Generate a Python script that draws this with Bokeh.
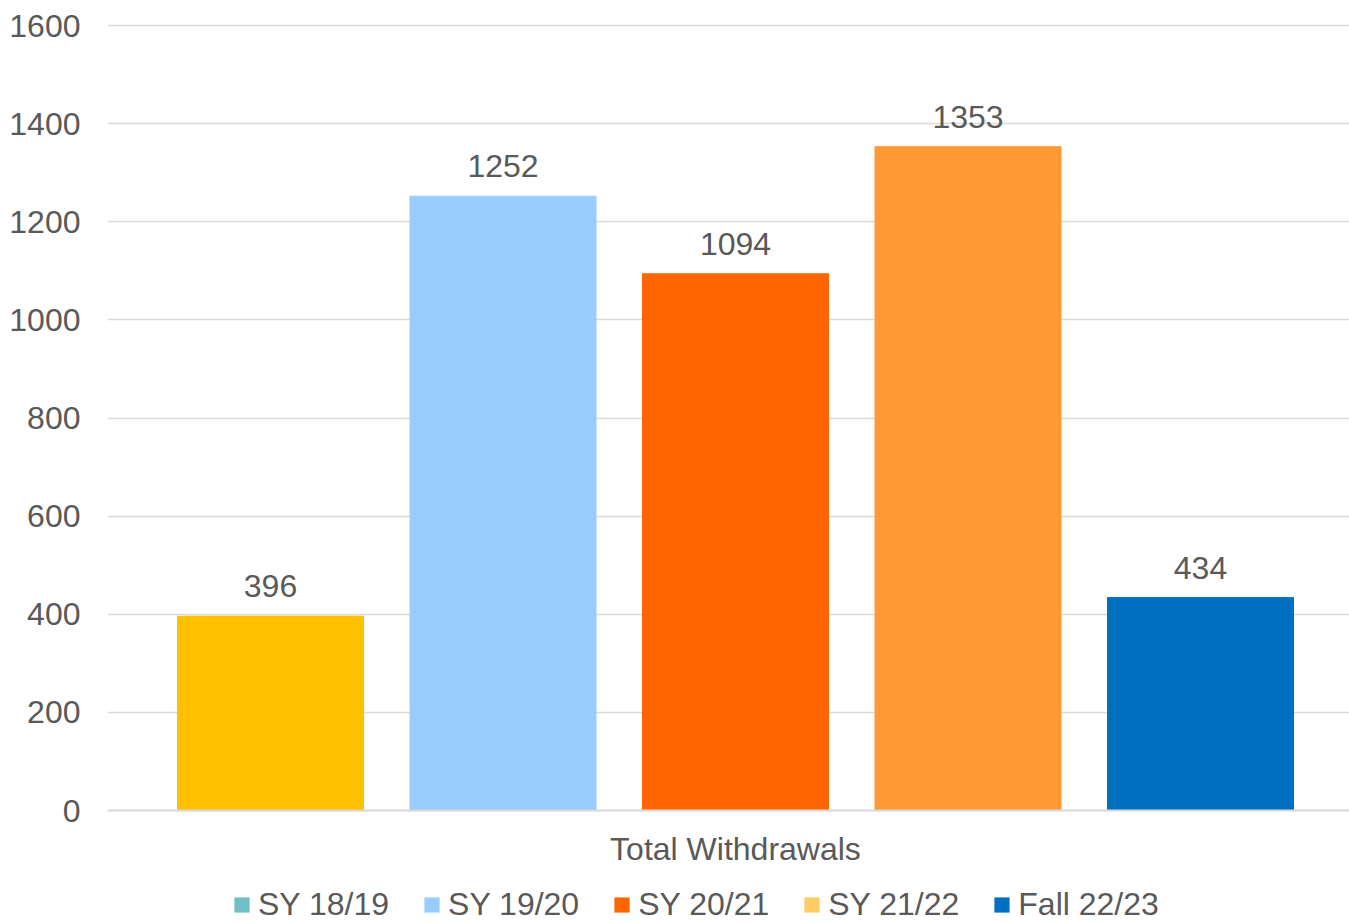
from bokeh.plotting import figure
from bokeh.models import (ColumnDataSource, Range1d, FixedTicker, Legend, LegendItem, Span)
from bokeh.core.properties import value
from bokeh.embed import file_html
from bokeh.resources import INLINE

# ---- data ----
category = "Total Withdrawals"
series = ["SY 18/19", "SY 19/20", "SY 20/21", "SY 21/22", "Fall 22/23"]
values = [396, 1252, 1094, 1353, 434]
bar_colors = ["#FFC000", "#99CCFF", "#FF6600", "#FF9933", "#0070C0"]
legend_colors = ["#70BFC4", "#99CCFF", "#FF6600", "#FFCC66", "#0070C0"]
y_ticks = [0, 200, 400, 600, 800, 1000, 1200, 1400, 1600]

FONT = "Liberation Sans"
FS = "32px"
TXT = "#595959"
GRID = "#D9D9D9"

positions = list(range(len(series)))
src = ColumnDataSource(dict(x=positions, top=values, color=bar_colors,
                            label=[str(v) for v in values]))

# frame spans from the 1600 line (plus a few px) down to the bottom of the canvas;
# area below 0 holds category label and legend
upp = 1600 / 785.0  # data units per pixel
p = figure(width=1349, height=923, output_backend="svg", toolbar_location=None,
           x_range=Range1d(-0.7011, 4.6409),
           y_range=Range1d(-113 * upp, 1600 + 5 * upp),
           x_axis_location=None,
           min_border_left=107, min_border_top=20, min_border_right=0,
           min_border_bottom=0)
p.outline_line_color = None
p.background_fill_color = "white"
p.border_fill_color = "white"

# grid
p.xgrid.visible = False
p.ygrid.ticker = FixedTicker(ticks=y_ticks)
p.ygrid.grid_line_color = GRID
p.ygrid.grid_line_width = 1.3
p.add_layout(Span(location=0, dimension="width", line_color=GRID, line_width=2))

p.vbar(x="x", top="top", width=0.8, color="color", source=src)

p.text(x="x", y="top", text="label", source=src, text_align="center",
       text_baseline="middle", y_offset=-30, text_color=TXT,
       text_font=value(FONT), text_font_size=FS)

# category label under the baseline
p.text(x=[2], y=[0], text=[category], text_align="center",
       text_baseline="middle", y_offset=38, text_color=TXT,
       text_font=value(FONT), text_font_size=FS)

# y axis
p.yaxis.ticker = FixedTicker(ticks=y_ticks)
p.yaxis.axis_line_color = None
p.yaxis.major_tick_line_color = None
p.yaxis.minor_tick_line_color = None
p.yaxis.major_tick_out = 0
p.yaxis.major_label_standoff = 27
p.yaxis.major_label_text_font = FONT
p.yaxis.major_label_text_font_size = FS
p.yaxis.major_label_text_color = TXT

# legend with its own swatch colours (zero-height, invisible proxy bars)
items = []
for name, col in zip(series, legend_colors):
    r = p.vbar(x=[0], top=[0], bottom=[0], width=0.01,
               fill_color=col, line_color=None)
    items.append(LegendItem(label=name, renderers=[r]))

legend = Legend(items=items, orientation="horizontal", location=(125, 0),
                padding=0, margin=0, spacing=33, label_standoff=7,
                glyph_width=19, glyph_height=19,
                border_line_color=None, background_fill_alpha=0,
                label_text_font=FONT, label_text_font_size=FS,
                label_text_color=TXT)
p.add_layout(legend, "center")

open("out.html", "w").write(file_html(p, INLINE))
